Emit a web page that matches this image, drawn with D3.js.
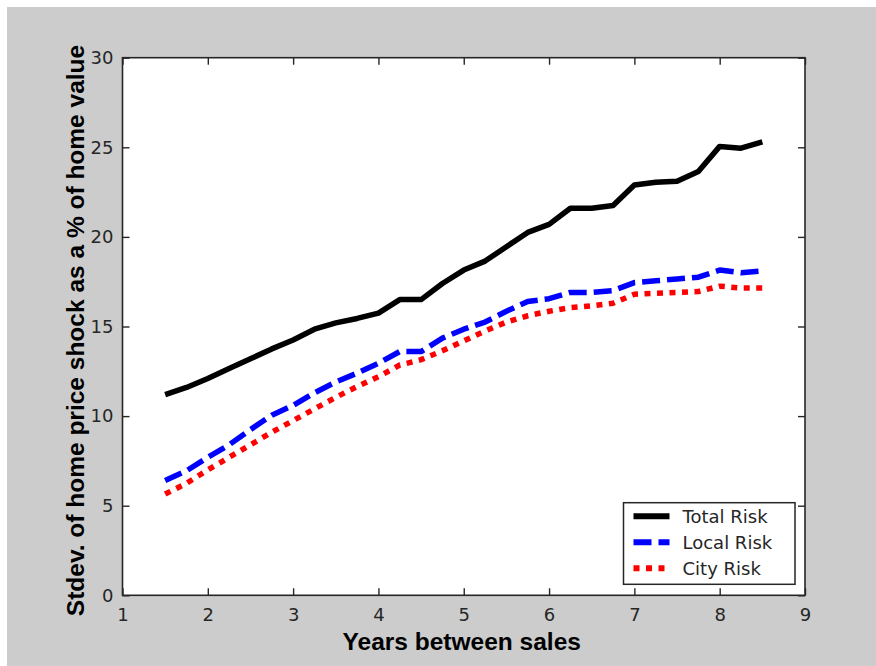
<!DOCTYPE html>
<html>
<head>
<meta charset="utf-8">
<script src="https://cdn.jsdelivr.net/npm/d3@7/dist/d3.min.js"></script>
<style>
  html, body { margin: 0; padding: 0; background: #ffffff; }
  svg { display: block; }
</style>
</head>
<body>
<svg id="chart" width="876" height="666"></svg>
<script>
// Holding period in years between repeat sales
const years = [1.5, 1.75, 2, 2.25, 2.5, 2.75, 3, 3.25, 3.5, 3.75, 4, 4.25, 4.5, 4.75,
  5, 5.25, 5.5, 5.75, 6, 6.25, 6.5, 6.75, 7, 7.25, 7.5, 7.75, 8, 8.25, 8.5];

// Standard deviation of the price shock, % of home value
const totalRisk = [11.2, 11.6, 12.1, 12.65, 13.2, 13.75, 14.25, 14.85, 15.2, 15.45, 15.75, 16.5, 16.5, 17.4,
  18.15, 18.65, 19.45, 20.25, 20.7, 21.6, 21.6, 21.75, 22.9, 23.05, 23.1, 23.65, 25.05, 24.95, 25.3];
const localRisk = [6.4, 6.95, 7.7, 8.4, 9.25, 10.05, 10.6, 11.3, 11.9, 12.4, 12.95, 13.6, 13.6, 14.35,
  14.85, 15.25, 15.85, 16.4, 16.55, 16.9, 16.9, 17.0, 17.45, 17.55, 17.65, 17.75, 18.15, 18.0, 18.1];
const cityRisk = [5.65, 6.25, 7.0, 7.7, 8.4, 9.1, 9.75, 10.4, 11.05, 11.65, 12.2, 12.85, 13.15, 13.65,
  14.2, 14.75, 15.25, 15.6, 15.85, 16.05, 16.15, 16.3, 16.8, 16.85, 16.9, 16.95, 17.25, 17.15, 17.15];

const seriesNames = ["Total Risk", "Local Risk", "City Risk"];
const xTicks = [1, 2, 3, 4, 5, 6, 7, 8, 9];
const yTicks = [0, 5, 10, 15, 20, 25, 30];
const xTitle = "Years between sales";
const yTitle = "Stdev. of home price shock as a % of home value";

const series = [
  { name: seriesNames[0], values: totalRisk, color: "#000000", dash: null },
  { name: seriesNames[1], values: localRisk, color: "#0000ff", dash: "18,7" },
  { name: seriesNames[2], values: cityRisk,  color: "#ff0000", dash: "6,6.5" }
];

const svg = d3.select("#chart");
const W = 876, H = 666;
const plot = { left: 122.5, right: 805, top: 57.7, bottom: 595.3 };

// figure background
svg.append("rect").attr("x", 7).attr("y", 7).attr("width", W - 7).attr("height", H - 7)
  .attr("fill", "#cccccc");

const x = d3.scaleLinear().domain([1, 9]).range([plot.left, plot.right]);
const y = d3.scaleLinear().domain([0, 30]).range([plot.bottom, plot.top]);

// axes area
svg.append("rect")
  .attr("x", plot.left).attr("y", plot.top)
  .attr("width", plot.right - plot.left).attr("height", plot.bottom - plot.top)
  .attr("fill", "#ffffff");

const tickFont = "'DejaVu Sans', sans-serif";
const axisColor = "#262626";
const tickLen = 7;

function styleAxis(g) {
  g.select(".domain").remove();
  g.selectAll(".tick line").attr("stroke", axisColor).attr("stroke-width", 1.4);
  g.selectAll(".tick text").attr("fill", "#262626")
    .style("font-family", tickFont).style("font-size", "18px");
}

// bottom axis with labels, ticks pointing in
svg.append("g").attr("transform", `translate(0,${plot.bottom})`)
  .call(d3.axisBottom(x).tickValues(xTicks).tickFormat(d3.format("d"))
    .tickSizeInner(-tickLen).tickSizeOuter(0).tickPadding(13))
  .call(styleAxis);
// top mirror ticks
svg.append("g").attr("transform", `translate(0,${plot.top})`)
  .call(d3.axisTop(x).tickValues(xTicks).tickFormat("").tickSizeInner(-tickLen).tickSizeOuter(0))
  .call(styleAxis);
// left axis with labels
svg.append("g").attr("transform", `translate(${plot.left},0)`)
  .call(d3.axisLeft(y).tickValues(yTicks).tickFormat(d3.format("d"))
    .tickSizeInner(-tickLen).tickSizeOuter(0).tickPadding(9))
  .call(styleAxis);
// right mirror ticks
svg.append("g").attr("transform", `translate(${plot.right},0)`)
  .call(d3.axisRight(y).tickValues(yTicks).tickFormat("").tickSizeInner(-tickLen).tickSizeOuter(0))
  .call(styleAxis);

// axes box
svg.append("rect")
  .attr("x", plot.left).attr("y", plot.top)
  .attr("width", plot.right - plot.left).attr("height", plot.bottom - plot.top)
  .attr("fill", "none").attr("stroke", axisColor).attr("stroke-width", 1.6);

// data lines
const line = d3.line().x((d, i) => x(years[i])).y(d => y(d));
series.forEach(s => {
  svg.append("path")
    .datum(s.values)
    .attr("d", line)
    .attr("fill", "none")
    .attr("stroke", s.color)
    .attr("stroke-width", 5.5)
    .attr("stroke-linejoin", "round")
    .attr("stroke-linecap", "butt")
    .attr("stroke-dasharray", s.dash);
});

// axis titles
const titleFont = "'Liberation Sans', Arial, sans-serif";
svg.append("text")
  .attr("x", (plot.left + plot.right) / 2 - 2).attr("y", 650)
  .attr("text-anchor", "middle")
  .style("font-family", titleFont).style("font-weight", "bold").style("font-size", "24.5px")
  .attr("fill", "#000")
  .text(xTitle);
svg.append("text")
  .attr("transform", `translate(84,${(plot.top + plot.bottom) / 2 + 4}) rotate(-90)`)
  .attr("text-anchor", "middle")
  .style("font-family", titleFont).style("font-weight", "bold").style("font-size", "24.5px")
  .attr("fill", "#000")
  .text(yTitle);

// legend
const lg = svg.append("g").attr("transform", "translate(623.5,502.7)");
lg.append("rect").attr("width", 171.5).attr("height", 81.6)
  .attr("fill", "#ffffff").attr("stroke", axisColor).attr("stroke-width", 1.5);
series.forEach((s, i) => {
  const cy = 13.5 + i * 26;
  lg.append("line")
    .attr("x1", 10).attr("x2", 46).attr("y1", cy).attr("y2", cy)
    .attr("stroke", s.color).attr("stroke-width", 6)
    .attr("stroke-dasharray", s.dash);
  lg.append("text")
    .attr("x", 59).attr("y", cy + 6.5)
    .style("font-family", tickFont).style("font-size", "18px")
    .attr("fill", "#262626")
    .text(s.name);
});
</script>
</body>
</html>
